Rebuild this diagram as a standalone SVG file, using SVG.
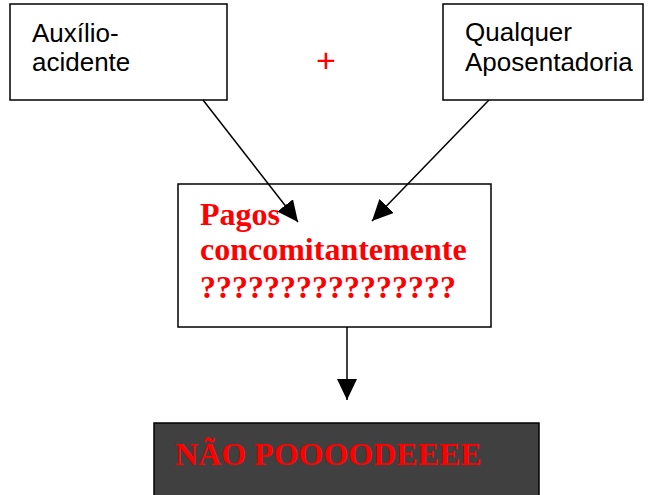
<svg xmlns="http://www.w3.org/2000/svg" width="651" height="495" viewBox="0 0 651 495">
<style>
.box{fill:#fff;stroke:#000;stroke-width:1.5}
.sans{font-family:"Liberation Sans",Arial,sans-serif;font-size:26px;fill:#000}
.serif{font-family:"Liberation Serif","Times New Roman",serif;font-size:32px;font-weight:bold;fill:#f00}
.conn{stroke:#000;stroke-width:1.5;fill:none;marker-end:url(#ah)}
</style>
<defs>
<marker id="ah" markerWidth="14" markerHeight="10" refX="13" refY="5" orient="auto" markerUnits="userSpaceOnUse" viewBox="0 0 14 10">
<path d="M0,0 L14,5 L0,10 Z" fill="#000"/>
</marker>
<marker id="ahb" markerWidth="21" markerHeight="20" refX="21" refY="10" orient="auto" markerUnits="userSpaceOnUse" viewBox="0 0 21 20">
<path d="M0,0 L21,10 L0,20 Z" fill="#000"/>
</marker>
</defs>
<rect width="651" height="495" fill="#fff"/>
<g id="n1">
<rect class="box" x="10" y="4" width="217" height="96"/>
<text class="sans" x="32" y="42">Auxílio-</text>
<text class="sans" x="32" y="71">acidente</text>
</g>
<g id="n2">
<rect class="box" x="443" y="4" width="200" height="96"/>
<text class="sans" x="465" y="41">Qualquer</text>
<text class="sans" x="465" y="71">Aposentadoria</text>
</g>
<g id="plus">
<text x="326" y="72" text-anchor="middle" style="font-family:'Liberation Sans',Arial,sans-serif;font-size:34px;fill:#f00">+</text>
</g>
<g id="n3">
<rect class="box" x="178" y="184" width="313" height="143"/>
<text class="serif" x="200" y="225">Pagos</text>
<text class="serif" x="200" y="260">concomitantemente</text>
<text class="serif" x="200" y="298">????????????????</text>
</g>
<g id="n4">
<rect x="154" y="423" width="385" height="80" fill="#404040" stroke="#000" stroke-width="1.5"/>
<text class="serif" x="175" y="465">NÃO POOOODEEEE</text>
</g>
<g id="connectors">
<line x1="203" y1="100" x2="298" y2="222" style="stroke:#000;stroke-width:1.5;marker-end:url(#ahb)"/>
<line x1="489" y1="100" x2="372" y2="221" style="stroke:#000;stroke-width:1.5;marker-end:url(#ahb)"/>
<line x1="347" y1="327" x2="347" y2="400" style="stroke:#000;stroke-width:1.5;marker-end:url(#ahb)"/>
</g>
</svg>
